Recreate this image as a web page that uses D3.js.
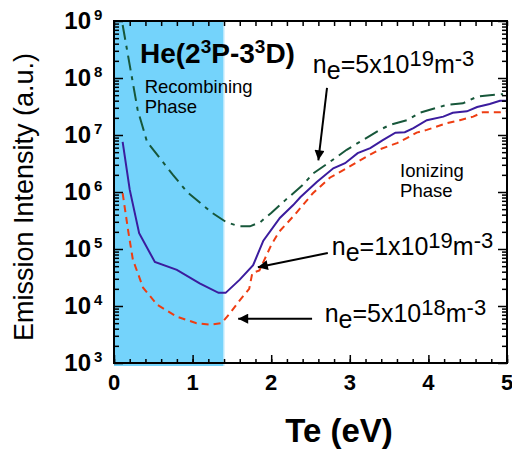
<!DOCTYPE html>
<html>
<head>
<meta charset="utf-8">
<script src="https://cdn.jsdelivr.net/npm/d3@7"></script>
<style>
  body { margin: 0; background: #fff; }
  svg { display: block; font-family: "Liberation Sans", Arial, sans-serif; }
  .axis path { display: none; }
  .axis line { stroke: #000; stroke-width: 1.5; }
</style>
</head>
<body>
<div id="graph"></div>
<script>
// Te (eV) and emission intensity (a.u.)
const teHigh = [0.11, 0.30, 0.42, 0.75, 0.93, 1.25, 1.43, 1.59, 1.73, 1.86, 2.0, 2.18, 2.40, 2.53, 2.75, 2.96, 3.13, 3.38, 3.51, 3.73, 3.89, 4.24, 4.44, 4.62, 4.78, 4.95]
const intHigh = [8.5e8, 2.8e7, 7.6e6, 2.0e6, 1.0e6, 4.3e5, 2.95e5, 2.5e5, 2.5e5, 2.95e5, 4.3e5, 7.2e5, 1.32e6, 2.1e6, 3.4e6, 5.5e6, 7.6e6, 1.23e7, 1.5e7, 1.82e7, 2.45e7, 3.4e7, 3.6e7, 4.7e7, 5.0e7, 5.2e7]

const teMid = [0.11, 0.20, 0.32, 0.52, 0.80, 1.09, 1.33, 1.42, 1.60, 1.77, 1.90, 2.11, 2.28, 2.37, 2.58, 2.79, 2.94, 3.10, 3.26, 3.42, 3.58, 3.70, 3.81, 3.98, 4.19, 4.31, 4.49, 4.62, 4.78, 4.91, 5.0]
const intMid = [7.6e6, 1.1e6, 1.9e5, 5.9e4, 4.3e4, 2.5e4, 1.7e4, 1.7e4, 2.9e4, 5.2e4, 1.4e5, 3.5e5, 5.9e5, 8.1e5, 1.5e6, 2.6e6, 3.2e6, 4.8e6, 5.9e6, 8.1e6, 1.1e7, 1.12e7, 1.32e7, 1.82e7, 2.1e7, 2.45e7, 2.6e7, 3.1e7, 3.5e7, 4.0e7, 4.0e7]

const teLow = [0.11, 0.18, 0.24, 0.37, 0.55, 0.80, 1.05, 1.22, 1.37, 1.48, 1.60, 1.72, 1.76, 1.85, 2.0, 2.10, 2.30, 2.53, 2.75, 2.96, 3.13, 3.38, 3.60, 3.73, 3.85, 3.98, 4.24, 4.40, 4.57, 4.69, 4.91, 5.0]
const intLow = [9.5e5, 2.1e5, 6.5e4, 2.1e4, 1.05e4, 6.5e3, 5.0e3, 4.7e3, 5.0e3, 7.6e3, 1.26e4, 2.0e4, 3.8e4, 4.2e4, 1.17e5, 2.0e5, 4.0e5, 9.5e5, 1.8e6, 2.6e6, 3.6e6, 5.6e6, 7.2e6, 8.9e6, 1.1e7, 1.23e7, 1.62e7, 1.82e7, 2.1e7, 2.5e7, 2.5e7, 2.6e7]

const xTicks = [0, 1, 2, 3, 4, 5]
const yDecades = [3, 4, 5, 6, 7, 8, 9]
const recombiningEdge = 1.4

// Build the svg
const width = 512, height = 452
const svg = d3.select('#graph').append('svg')
              .attr('width', width)
              .attr('height', height)

const xScale = d3.scaleLinear().domain([0, 5]).range([114, 507])
const yScale = d3.scaleLog().domain([1e3, 1e9]).range([363, 21])

const x0 = xScale(0), x1 = xScale(5), y0 = yScale(1e3), y1 = yScale(1e9)

// Recombining phase shading
svg.append('rect')
   .attr('x', x0)
   .attr('y', y1)
   .attr('width', xScale(recombiningEdge) - x0)
   .attr('height', y0 - y1 + 3)
   .attr('fill', '#74d3fb')
svg.append('line')
   .attr('x1', xScale(recombiningEdge)).attr('x2', xScale(recombiningEdge))
   .attr('y1', y1).attr('y2', y0 + 3)
   .attr('stroke', '#d4f0fd').attr('stroke-width', 1.5)

// Curves
const line = d3.line().x(d => xScale(d[0])).y(d => yScale(d[1]))
const series = [
  { te: teHigh, val: intHigh, color: '#17573a', dash: '15,6,4,6' },
  { te: teMid, val: intMid, color: '#3b1c9e', dash: null },
  { te: teLow, val: intLow, color: '#ee3d12', dash: '7,5' }
]
series.forEach(s => {
  svg.append('path')
     .datum(d3.zip(s.te, s.val))
     .attr('fill', 'none')
     .attr('stroke', s.color)
     .attr('stroke-width', 2)
     .attr('stroke-dasharray', s.dash)
     .attr('d', line)
})

// Ticks (all pointing inward)
const minorX = d3.range(0, 5.001, 0.2)
const minorY = []
yDecades.slice(0, -1).forEach(p => { for (let k = 2; k <= 9; k++) minorY.push(k * Math.pow(10, p)) })
const majorY = yDecades.map(p => Math.pow(10, p))

svg.append('g').attr('class', 'axis').attr('transform', `translate(0,${y0})`)
   .call(d3.axisBottom(xScale).tickValues(minorX).tickSize(-4).tickFormat(''))
svg.append('g').attr('class', 'axis').attr('transform', `translate(0,${y0})`)
   .call(d3.axisBottom(xScale).tickValues(xTicks).tickSize(-8).tickFormat(''))
svg.append('g').attr('class', 'axis').attr('transform', `translate(0,${y1})`)
   .call(d3.axisTop(xScale).tickValues(minorX).tickSize(-5).tickFormat(''))

svg.append('g').attr('class', 'axis').attr('transform', `translate(${x0},0)`)
   .call(d3.axisLeft(yScale).tickValues(minorY).tickSize(-5).tickFormat(''))
svg.append('g').attr('class', 'axis').attr('transform', `translate(${x0},0)`)
   .call(d3.axisLeft(yScale).tickValues(majorY).tickSize(-9).tickFormat(''))
svg.append('g').attr('class', 'axis').attr('transform', `translate(${x1},0)`)
   .call(d3.axisRight(yScale).tickValues(minorY).tickSize(-5).tickFormat(''))
svg.append('g').attr('class', 'axis').attr('transform', `translate(${x1},0)`)
   .call(d3.axisRight(yScale).tickValues(majorY).tickSize(-9).tickFormat(''))

// Frame
svg.append('rect')
   .attr('x', x0).attr('y', y1)
   .attr('width', x1 - x0).attr('height', y0 - y1)
   .attr('fill', 'none').attr('stroke', '#000').attr('stroke-width', 2)

// X tick labels
svg.selectAll('.xlab').data(xTicks).enter().append('text')
   .attr('class', 'xlab')
   .attr('x', d => xScale(d))
   .attr('y', y0 + 27)
   .attr('text-anchor', 'middle')
   .attr('font-size', 22).attr('font-weight', 'bold')
   .text(d => d)

// Y tick labels: 10 with superscript power
const ylab = svg.selectAll('.ylab').data(yDecades).enter().append('g')
   .attr('class', 'ylab')
   .attr('transform', d => `translate(0,${yScale(Math.pow(10, d))})`)
ylab.append('text')
   .attr('x', 91).attr('y', 8)
   .attr('text-anchor', 'end')
   .attr('font-size', 24).attr('font-weight', 'bold')
   .text('10')
ylab.append('text')
   .attr('x', 94).attr('y', -1)
   .attr('font-size', 15).attr('font-weight', 'bold')
   .text(d => d)

// Axis titles
svg.append('text')
   .attr('x', 339).attr('y', 442)
   .attr('text-anchor', 'middle')
   .attr('font-size', 33).attr('font-weight', 'bold')
   .text('Te (eV)')
svg.append('text')
   .attr('transform', 'translate(33,197) rotate(-90)')
   .attr('text-anchor', 'middle')
   .attr('font-size', 27)
   .text('Emission Intensity (a.u.)')

// Title
const title = svg.append('text')
   .attr('x', xScale(0.33)).attr('y', yScale(1.8e8))
   .attr('font-size', 28).attr('font-weight', 'bold')
title.append('tspan').text('He(2')
title.append('tspan').attr('dy', -10).attr('font-size', 19).text('3')
title.append('tspan').attr('dy', 10).text('P-3')
title.append('tspan').attr('dy', -10).attr('font-size', 19).text('3')
title.append('tspan').attr('dy', 10).text('D)')

// Phase labels
function twoLines(te, val, lines) {
  const t = svg.append('text')
     .attr('x', xScale(te)).attr('y', yScale(val))
     .attr('font-size', 18.5)
  lines.forEach((l, i) => t.append('tspan').attr('x', xScale(te)).attr('dy', i ? 20 : 0).text(l))
}
twoLines(0.39, 5.5e7, ['Recombining', 'Phase'])
twoLines(3.64, 1.8e6, ['Ionizing', 'Phase'])

// Density labels with arrows
const labelTe = [2.53, 2.77, 2.68]
const labelInt = [1.23e8, 7.8e4, 5.3e3]
const labelMant = ['5', '1', '5']
const labelPow = ['19', '19', '18']
const arrowFrom = [[2.71, 6.7e7], [2.72, 8.5e4], [2.52, 6.0e3]]
const arrowTo = [[2.60, 3.6e6], [1.83, 4.8e4], [1.58, 6.0e3]]

svg.append('defs').append('marker')
   .attr('id', 'head')
   .attr('viewBox', '0 0 10 10')
   .attr('refX', 10).attr('refY', 5)
   .attr('markerWidth', 7).attr('markerHeight', 5)
   .attr('markerUnits', 'strokeWidth')
   .attr('orient', 'auto')
   .append('path').attr('d', 'M0,0L10,5L0,10Z').attr('fill', '#000')

labelTe.forEach((te, i) => {
  const t = svg.append('text')
     .attr('x', xScale(te)).attr('y', yScale(labelInt[i]))
     .attr('font-size', 25)
  t.append('tspan').text('n')
  t.append('tspan').attr('dy', 6).text('e')
  t.append('tspan').attr('dy', -6).text(`=${labelMant[i]}x10`)
  t.append('tspan').attr('dy', -7).attr('font-size', 22).text(labelPow[i])
  t.append('tspan').attr('dy', 7).text('m')
  t.append('tspan').attr('dy', -7).attr('font-size', 22).text('-3')

  svg.append('line')
     .attr('x1', xScale(arrowFrom[i][0])).attr('y1', yScale(arrowFrom[i][1]))
     .attr('x2', xScale(arrowTo[i][0])).attr('y2', yScale(arrowTo[i][1]))
     .attr('stroke', '#000').attr('stroke-width', 2)
     .attr('marker-end', 'url(#head)')
})
</script>
</body>
</html>
